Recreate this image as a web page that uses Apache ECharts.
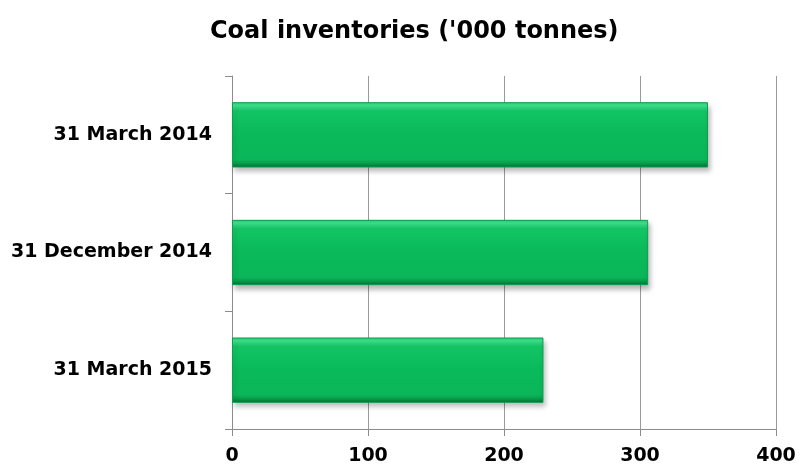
<!DOCTYPE html>
<html>
<head>
<meta charset="utf-8">
<script src="https://cdn.jsdelivr.net/npm/echarts@6/dist/echarts.min.js"></script>
<style>html,body{margin:0;padding:0;background:#fff}#c{width:800px;height:467px}</style>
</head>
<body>
<div id="c"></div>
<script>
const titleText = "Coal inventories ('000 tonnes)";
const categories = ["31 March 2014", "31 December 2014", "31 March 2015"];
const values = [350, 306, 229];
const xTicks = { min: 0, max: 400, interval: 100 };

const chart = echarts.init(document.getElementById('c'), null, { renderer: 'canvas' });
const font = '"DejaVu Sans", Verdana, sans-serif';
chart.setOption({
  animation: false,
  backgroundColor: '#ffffff',
  title: {
    text: titleText,
    left: 205,
    top: 15,
    textStyle: { fontFamily: font, fontWeight: 'bold', fontSize: 24, color: '#000' }
  },
  grid: { left: 232, right: 24, top: 76, bottom: 38, containLabel: false },
  xAxis: {
    type: 'value',
    min: xTicks.min, max: xTicks.max, interval: xTicks.interval,
    axisLine: { show: true, lineStyle: { color: '#8c8c8c', width: 1 } },
    axisTick: { show: true, length: 7, lineStyle: { color: '#8c8c8c' } },
    splitLine: { show: true, lineStyle: { color: '#9a9a9a', width: 1 } },
    axisLabel: { margin: 18, fontFamily: font, fontWeight: 'bold', fontSize: 19, color: '#000' }
  },
  yAxis: {
    type: 'category',
    inverse: true,
    data: categories,
    axisLine: { show: true, lineStyle: { color: '#8c8c8c', width: 1 } },
    axisTick: { show: true, length: 7, lineStyle: { color: '#8c8c8c' } },
    axisLabel: { margin: 20, fontFamily: font, fontWeight: 'bold', fontSize: 19, color: '#000' }
  },
  series: [{
    type: 'bar',
    data: values,
    barWidth: '55.5%',
    itemStyle: {
      color: {
        type: 'linear', x: 0, y: 0, x2: 0, y2: 1,
        colorStops: [
          { offset: 0, color: '#1fcf70' },
          { offset: 0.05, color: '#3fe58f' },
          { offset: 0.14, color: '#13c464' },
          { offset: 0.5, color: '#0aba5a' },
          { offset: 0.88, color: '#0ab659' },
          { offset: 0.94, color: '#089a4a' },
          { offset: 1, color: '#066a33' }
        ]
      },
      borderColor: '#0a9e4d',
      borderWidth: 1,
      shadowColor: 'rgba(0,0,0,0.28)',
      shadowBlur: 5,
      shadowOffsetX: 2,
      shadowOffsetY: 4
    }
  }]
});
</script>
</body>
</html>
